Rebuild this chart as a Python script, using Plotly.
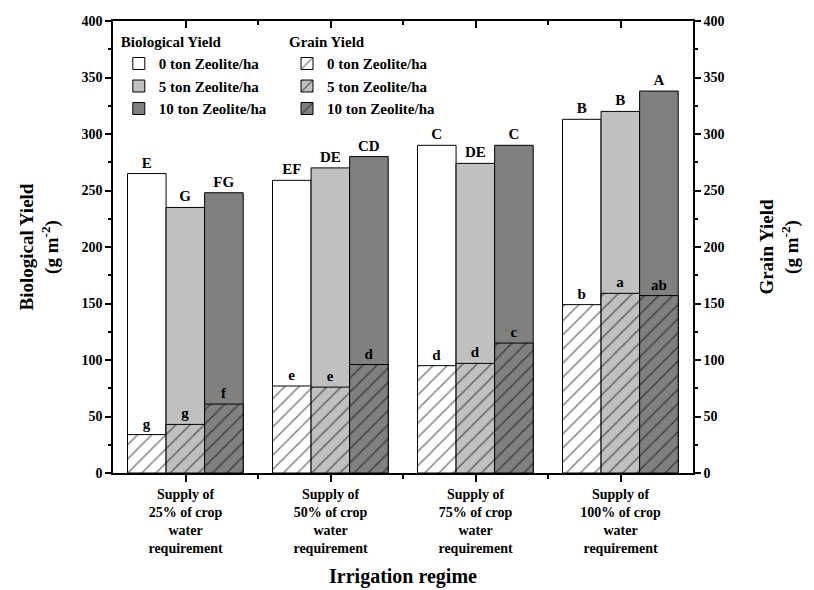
import plotly.graph_objects as go

# ---------------- data ----------------
categories = [
    "Supply of<br>25% of crop<br>water<br>requirement",
    "Supply of<br>50% of crop<br>water<br>requirement",
    "Supply of<br>75% of crop<br>water<br>requirement",
    "Supply of<br>100% of crop<br>water<br>requirement",
]
x_pos = [1, 2, 3, 4]
zeolite_levels = ["0 ton Zeolite/ha", "5 ton Zeolite/ha", "10 ton Zeolite/ha"]

bio_0 = [265, 259, 290, 313]
bio_5 = [235, 270, 274, 320]
bio_10 = [248, 280, 290, 338]

grain_0 = [34, 77, 95, 149]
grain_5 = [43, 76, 97, 159]
grain_10 = [61, 96, 115, 157]

bio_letters_0 = ["E", "EF", "C", "B"]
bio_letters_5 = ["G", "DE", "DE", "B"]
bio_letters_10 = ["FG", "CD", "C", "A"]

grain_letters_0 = ["g", "e", "d", "b"]
grain_letters_5 = ["g", "e", "d", "a"]
grain_letters_10 = ["f", "d", "c", "ab"]

y_ticks = [0, 50, 100, 150, 200, 250, 300, 350, 400]

# ---------------- style ----------------
FONT = "Liberation Serif, Times New Roman, serif"
fills = ["#ffffff", "#c0c0c0", "#808080"]
bar_w = 0.266
offsets = [-0.4, -0.134, 0.132]

bio_sets = [(bio_0, bio_letters_0), (bio_5, bio_letters_5), (bio_10, bio_letters_10)]
grain_sets = [(grain_0, grain_letters_0), (grain_5, grain_letters_5), (grain_10, grain_letters_10)]

def f(size):
    return dict(family=FONT, size=size, color="black", weight="bold")

fig = go.Figure()

for i, (vals, labs) in enumerate(bio_sets):
    fig.add_trace(go.Bar(
        x=x_pos, y=vals, width=bar_w, offset=offsets[i],
        name=zeolite_levels[i], legend="legend",
        marker=dict(color=fills[i], line=dict(color="black", width=1)),
        text=labs, textposition="outside", textfont=f(15),
        cliponaxis=False,
        xaxis="x", yaxis="y",
    ))

for i, (vals, labs) in enumerate(grain_sets):
    fig.add_trace(go.Bar(
        x=x_pos, y=vals, width=bar_w, offset=offsets[i],
        name=zeolite_levels[i], legend="legend2",
        marker=dict(color=fills[i], line=dict(color="black", width=1),
                    pattern=dict(shape="/", fgcolor="black", size=10, solidity=0.15)),
        text=labs, textposition="outside", textfont=f(15),
        cliponaxis=False,
        xaxis="x2", yaxis="y2",
    ))

axis_common = dict(tickcolor="black", tickwidth=1.5, showline=True, linecolor="black",
                   linewidth=1.5, showgrid=False, zeroline=False)

fig.update_layout(
    width=814, height=590,
    # the page adds an 8 px body margin at top/left; compensate so the plot lands in place
    margin=dict(l=105, r=129, t=13, b=125),
    plot_bgcolor="white", paper_bgcolor="white",
    barmode="overlay",
    font=dict(family=FONT, color="black"),
    xaxis=dict(
        range=[0.5, 4.5], tickmode="array", tickvals=x_pos, ticktext=categories,
        ticks="outside", ticklen=7,
        minor=dict(tickmode="array", tickvals=[1.5, 2.5, 3.5], ticks="outside",
                   ticklen=4, tickwidth=1.5, tickcolor="black"),
        tickfont=f(14),
        title=dict(text="Irrigation regime", font=f(20), standoff=14),
        automargin=False, **axis_common,
    ),
    xaxis2=dict(
        range=[0.5, 4.5], overlaying="x", side="top", anchor="y2",
        tickmode="array", tickvals=x_pos, showticklabels=False,
        ticks="inside", ticklen=7,
        minor=dict(tickmode="array", tickvals=[1.5, 2.5, 3.5], ticks="inside",
                   ticklen=4, tickwidth=1.5, tickcolor="black"),
        **axis_common,
    ),
    yaxis=dict(
        range=[0, 400], tickmode="array", tickvals=y_ticks,
        ticks="outside", ticklen=6,
        minor=dict(dtick=25, tick0=0, ticks="outside", ticklen=3, tickwidth=1.5, tickcolor="black"),
        tickfont=f(14),
        title=dict(text="Biological Yield<br>(g m<sup>-2</sup>)", font=f(19), standoff=18),
        automargin=False, **axis_common,
    ),
    yaxis2=dict(
        range=[0, 400], overlaying="y", side="right", anchor="x2",
        tickmode="array", tickvals=y_ticks,
        ticks="outside", ticklen=6,
        minor=dict(dtick=25, tick0=0, ticks="outside", ticklen=3, tickwidth=1.5, tickcolor="black"),
        tickfont=f(14),
        title=dict(text="Grain Yield<br>(g m<sup>-2</sup>)", font=f(19), standoff=36),
        automargin=False, **axis_common,
    ),
    legend=dict(
        x=0.01, y=0.985, xanchor="left", yanchor="top",
        bgcolor="rgba(0,0,0,0)", borderwidth=0,
        title=dict(text="Biological Yield", font=f(15)),
        font=f(15), traceorder="normal", itemwidth=30, tracegroupgap=0,
    ),
    legend2=dict(
        x=0.30, y=0.985, xanchor="left", yanchor="top",
        bgcolor="rgba(0,0,0,0)", borderwidth=0,
        title=dict(text="Grain Yield", font=f(15)),
        font=f(15), traceorder="normal", itemwidth=30, tracegroupgap=0,
    ),
)

fig.write_html("out.html")
